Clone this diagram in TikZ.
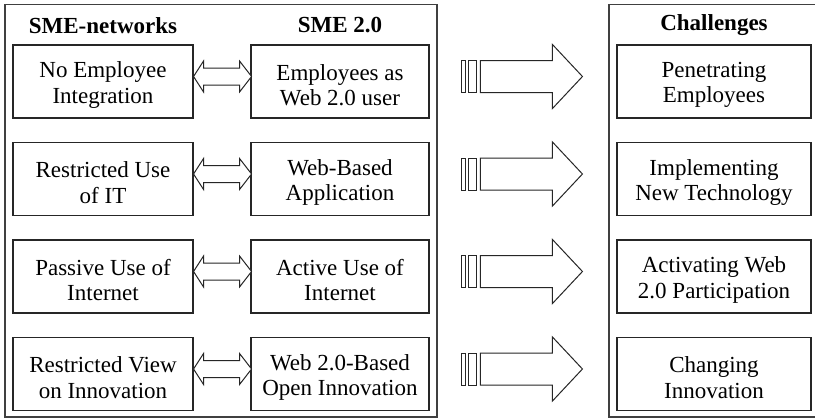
\documentclass[tikz,border=0pt]{standalone}
\usepackage{fontspec}
\setmainfont{Liberation Serif}
\usetikzlibrary{calc}
\tikzset{
  box/.style={draw=black!85, line width=1.1pt, rectangle, inner sep=0pt, minimum height=73pt},
  lbox/.style={box, minimum width=180pt},
  mbox/.style={box, minimum width=178pt},
  rbox/.style={box, minimum width=194pt},
  txt/.style={align=center, inner sep=0pt, yshift=-3.5pt, font=\fontsize{23}{25.5}\selectfont},
  frame/.style={draw=black!75, line width=1.1pt},
  title/.style={font=\fontsize{23}{25.5}\selectfont\bfseries, inner sep=0pt},
  dblarrow/.style={draw=black!85, line width=1pt, fill=white, line join=miter},
  bigarrow/.style={draw=black!85, line width=1pt, fill=white, line join=miter},
}
\newcommand{\dblarr}[2]{%
  \draw[dblarrow, shift={($(#1.east)+(0,-5)$)}]
    (0,0) -- (10,-15.5) -- (10,-8.5) -- (46,-8.5) -- (46,-15.5) -- (58,0)
    -- (46,15.5) -- (46,8.5) -- (10,8.5) -- (10,15.5) -- cycle;}
\newcommand{\bigarr}[1]{%
  \begin{scope}[shift={($(#1.west)+(-146,-5)$)}]
    \draw[bigarrow] (-9,-16) rectangle (-5,16);
    \draw[bigarrow] (-2,-16) rectangle (6,16);
    \draw[bigarrow] (10,-16) -- (82,-16) -- (82,-32) -- (112,0) -- (82,32) -- (82,16) -- (10,16) -- cycle;
  \end{scope}}
\newcommand{\boxnode}[4]{%
  \node[#1] (#2) at #3 {};
  \node[txt] (#2t) at (#2.center) {#4};}
\begin{document}
\begin{tikzpicture}[x=1pt,y=-1pt]
\useasboundingbox (0,0) rectangle (815,418);
\fill[white] (0,0) rectangle (815,418);
\draw[frame] (5,4.5) rectangle (437,417);
\draw[frame] (609,4.5) rectangle (817,417);
\node[title] (t1) at (103,25.5) {SME-networks};
\node[title] (t2) at (340,25.5) {SME 2.0};
\node[title] (t3) at (714,25.5) {Challenges};

\boxnode{lbox}{l1}{(103,81.5)}{No Employee\\Integration}
\boxnode{lbox}{l2}{(103,179)}{Restricted Use\\of IT}
\boxnode{lbox}{l3}{(103,276.5)}{Passive Use of\\Internet}
\boxnode{lbox}{l4}{(103,374)}{Restricted View\\on Innovation}

\boxnode{mbox}{m1}{(340,81.5)}{Employees as\\Web 2.0 user}
\boxnode{mbox}{m2}{(340,179)}{Web-Based\\Application}
\boxnode{mbox}{m3}{(340,276.5)}{Active Use of\\Internet}
\boxnode{mbox}{m4}{(340,374)}{Web 2.0-Based\\Open Innovation}

\boxnode{rbox}{r1}{(714,81.5)}{Penetrating\\Employees}
\boxnode{rbox}{r2}{(714,179)}{Implementing\\New Technology}
\boxnode{rbox}{r3}{(714,276.5)}{Activating Web\\2.0 Participation}
\boxnode{rbox}{r4}{(714,374)}{Changing\\Innovation}

\dblarr{l1}{m1}
\dblarr{l2}{m2}
\dblarr{l3}{m3}
\dblarr{l4}{m4}

\bigarr{r1}
\bigarr{r2}
\bigarr{r3}
\bigarr{r4}
\end{tikzpicture}
\end{document}
